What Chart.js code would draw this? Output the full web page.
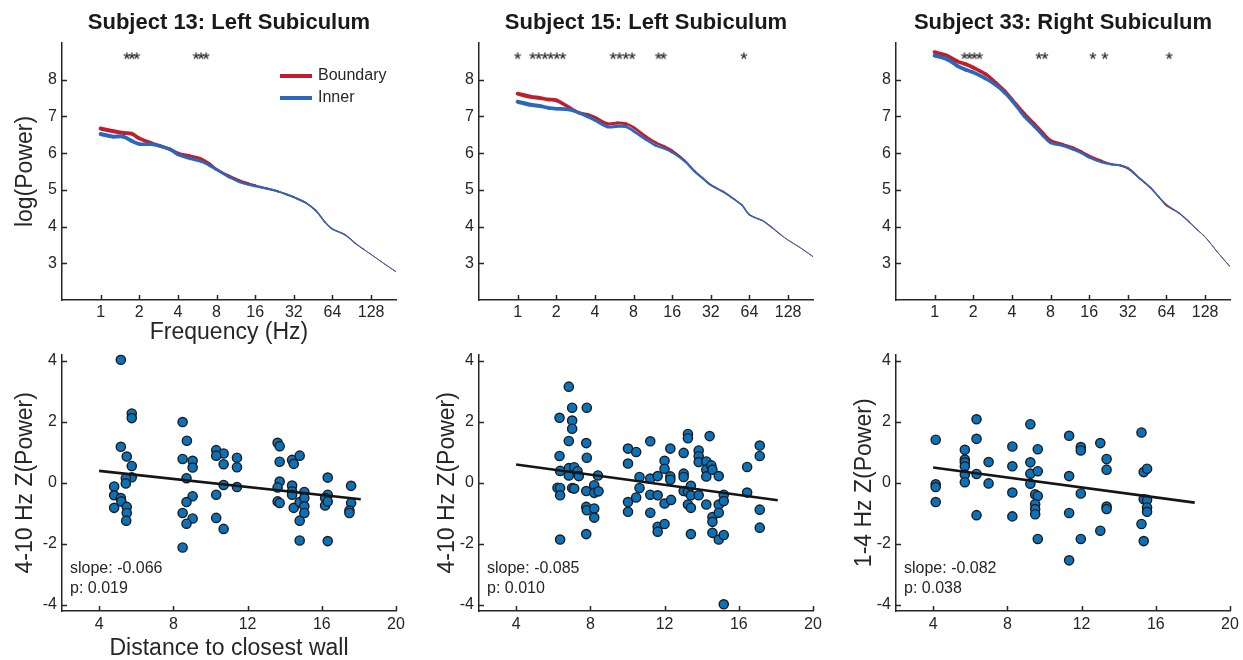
<!DOCTYPE html>
<html>
<head>
<meta charset="utf-8">
<script src="https://cdn.jsdelivr.net/npm/chart.js@4.4.1/dist/chart.umd.min.js"></script>
<style>
html, body { margin:0; padding:0; background:#fff; overflow:hidden; }
#wrap { position:relative; width:1243px; height:660px; }
canvas { position:absolute; }
</style>
</head>
<body>
<div id="wrap">
<canvas id="top13" width="409" height="350" style="left:0px;top:0px"></canvas>
<canvas id="top15" width="409" height="350" style="left:417px;top:0px"></canvas>
<canvas id="top33" width="409" height="350" style="left:834px;top:0px"></canvas>
<canvas id="bot13" width="409" height="322" style="left:0px;top:340px"></canvas>
<canvas id="bot15" width="409" height="322" style="left:417px;top:340px"></canvas>
<canvas id="bot33" width="409" height="322" style="left:834px;top:340px"></canvas>
</div>
<script>
// ---- data ----
var freq = [1,1.25,1.5,1.75,2,2.5,3,3.5,4,5,6,7,8,10,12,14,16,20,24,28,32,40,48,56,64,80,96,112,128,160,200];
var xTicksTop = [1,2,4,8,16,32,64,128];
var yTicksTop = [3,4,5,6,7,8];
var xTicksBot = [4,8,12,16,20];
var yTicksBot = [-4,-2,0,2,4];

var boundary13 = [6.67,6.60,6.55,6.53,6.40,6.27,6.18,6.10,6.00,5.92,5.85,5.72,5.56,5.38,5.26,5.18,5.12,5.03,4.96,4.88,4.80,4.64,4.42,4.12,3.93,3.78,3.55,3.38,3.24,3.00,2.77];
var inner13    = [6.52,6.45,6.45,6.33,6.25,6.24,6.18,6.10,5.96,5.85,5.78,5.67,5.55,5.35,5.22,5.15,5.10,5.03,4.96,4.88,4.80,4.64,4.42,4.12,3.93,3.78,3.55,3.38,3.24,3.00,2.77];
var boundary15 = [7.62,7.54,7.50,7.46,7.44,7.25,7.10,7.05,6.97,6.80,6.82,6.80,6.70,6.45,6.28,6.18,6.07,5.80,5.50,5.30,5.13,4.95,4.76,4.58,4.32,4.17,3.97,3.78,3.63,3.42,3.18];
var inner15    = [7.40,7.32,7.28,7.23,7.21,7.19,7.10,7.00,6.90,6.72,6.73,6.72,6.60,6.37,6.20,6.12,6.02,5.78,5.50,5.30,5.13,4.95,4.76,4.58,4.32,4.17,3.97,3.78,3.63,3.42,3.18];
var boundary33 = [8.75,8.65,8.50,8.42,8.33,8.15,7.92,7.70,7.47,7.08,6.80,6.55,6.35,6.24,6.15,6.04,5.93,5.79,5.70,5.66,5.58,5.30,5.06,4.80,4.57,4.37,4.13,3.90,3.72,3.30,2.91];
var inner33    = [8.66,8.56,8.38,8.27,8.20,8.03,7.85,7.65,7.43,7.00,6.72,6.47,6.28,6.20,6.10,6.00,5.88,5.75,5.69,5.67,5.60,5.30,5.06,4.80,4.60,4.37,4.13,3.90,3.72,3.30,2.91];

var sig13 = [1.6,1.75,1.91,5.55,6.07,6.64];
var sig15 = [1,1.31,1.46,1.63,1.81,2.02,2.25,5.55,6.22,6.97,7.81,12.5,13.7,57.9];
var sig33 = [1.71,1.87,2.04,2.24,6.49,7.23,17.1,21.2,67.3];
var sigLevel = 8.66;

var dist13 = [5.17,5.76,5.76,5.17,5.49,5.76,5.76,5.44,5.44,4.81,4.81,5.17,5.2,4.81,5.49,5.49,5.46,
  8.5,8.73,8.5,9.04,9.04,8.71,9.04,8.71,8.5,9.04,8.71,8.5,
  10.31,10.71,10.31,10.71,11.43,11.43,10.71,11.43,10.31,10.31,10.71,
  13.62,13.73,13.73,13.73,13.62,13.62,13.73,14.4,14.49,14.81,14.4,14.4,14.4,14.49,14.81,14.81,14.81,15.06,15.06,15.06,15.06,
  16.32,16.32,16.18,16.18,16.32,16.32,
  17.58,17.58,17.49,17.49];
var z13 = [4.03,2.27,2.12,1.18,0.86,0.55,0.18,0.15,-0.02,-0.12,-0.41,-0.5,-0.61,-0.82,-0.79,-0.99,-1.24,
  1.99,1.38,0.78,0.72,0.5,0.15,-0.44,-0.63,-0.99,-1.17,-1.34,-2.12,
  1.07,0.96,0.89,0.61,0.82,0.51,-0.07,-0.14,-0.39,-1.15,-1.51,
  1.31,1.2,0.69,0.04,-0.15,-0.61,-0.66,0.75,0.62,0.89,-0.09,-0.28,-0.39,-0.82,-0.63,-1.24,-1.89,-0.3,-0.5,-0.77,-0.99,
  0.17,-0.39,-0.5,-0.74,-0.61,-1.91,
  -0.1,-0.66,-0.91,-0.99];

var dist15 = [6.34,6.34,6.37,6.23,6.37,6.37,6.37,
  6.84,7.02,7.02,7.02,6.84,6.84,6.84,7.13,7.31,7.38,7.02,7.13,
  7.81,7.78,7.81,7.78,7.78,7.81,7.78,
  8.41,8.21,8.21,8.44,8.21,8.21,
  10.03,10.47,10.03,10.03,10.03,10.47,10.65,10.65,
  11.23,11.23,11.23,11.23,11.63,11.63,11.63,11.63,
  12.0,12.0,12.0,12.0,12.31,12.31,12.31,12.35,
  13.03,13.03,13.03,13.03,13.26,13.26,13.26,13.26,13.42,13.42,13.42,13.42,
  13.84,13.84,13.84,13.84,14.25,14.25,14.25,14.25,
  14.43,14.52,14.58,14.58,14.58,14.58,14.92,14.92,14.92,14.92,
  15.19,15.19,15.19,15.19,
  16.45,16.45,
  17.13,17.13,17.13,17.13];
var z15 = [2.13,0.88,0.39,-0.16,-0.17,-0.41,-1.86,
  3.15,2.46,2.04,1.77,1.37,0.48,0.24,0.51,0.38,0.22,-0.17,-0.19,
  2.46,1.3,0.82,-0.27,-0.79,-0.9,-1.68,
  0.24,-0.08,-0.33,-0.28,-0.84,-1.14,
  1.12,1.01,0.63,-0.63,-0.95,-0.48,0.19,-0.17,
  1.36,0.14,-0.39,-0.98,0.22,-0.41,-1.44,-1.6,
  0.72,0.46,-0.68,-1.35,1.12,0.21,0.1,-0.56,
  0.98,0.3,0.19,-0.27,1.6,1.46,-0.3,-0.71,-0.1,-0.41,-0.82,-1.68,
  1.06,0.87,0.68,-0.41,0.7,0.43,0.21,-0.71,
  1.53,0.57,0.43,-1.12,-1.28,-1.64,0.22,-0.71,-0.98,-1.86,
  -0.39,-0.6,-1.71,-3.98,
  0.52,-0.32,
  1.22,0.88,-0.88,-1.47];

var dist33 = [4.14,4.14,4.14,4.14,
  5.71,5.71,5.71,5.71,5.71,5.71,
  6.34,6.34,6.34,6.34,
  6.99,6.99,
  8.27,8.27,8.27,8.27,
  9.24,9.24,9.24,9.24,9.64,9.64,9.5,9.64,9.5,9.5,9.5,9.64,
  11.33,11.33,11.33,11.33,
  11.96,11.96,11.96,11.96,
  13.01,13.01,13.35,13.35,13.35,13.35,
  15.23,15.35,15.53,15.35,15.53,15.53,15.53,15.23,15.35];
var z33 = [1.41,-0.05,-0.14,-0.63,
  1.08,0.76,0.67,0.54,0.27,0.02,
  2.08,1.44,0.29,-1.06,
  0.68,-0.02,
  1.19,0.54,-0.32,-1.1,
  1.92,0.67,0.3,-0.03,1.1,0.38,-0.38,-0.43,-0.7,-0.86,-1.03,-1.84,
  1.54,0.22,-0.99,-2.54,
  1.17,1.06,-0.35,-1.84,
  1.3,-1.57,0.78,0.43,-0.78,-0.86,
  1.65,0.35,0.46,-0.54,-0.56,-0.81,-0.95,-1.35,-1.91];

// regression line end points
var fitX = [4, 18.1];
var fit13 = [0.39, -0.54];
var fit15 = [0.60, -0.57];
var fit33 = [0.50, -0.65];

// ---- styling ----
var FONT = "'Liberation Sans', Arial, Helvetica, sans-serif";
var INK = '#262626';
var RED = '#BE1E2D';
var BLUE = '#2A68BE';
var DOT = '#0B72BA';

Chart.defaults.animation = false;
Chart.defaults.font.family = FONT;
Chart.defaults.color = INK;

function pairs(xs, ys) {
  return xs.map(function(x, i) { return { x: x, y: ys[i] }; });
}

// thicker band at low frequencies, thin at high ones
function bandWidth(ctx) {
  var f = ctx.chart.data.datasets[ctx.datasetIndex].data[ctx.p0DataIndex].x;
  return Math.max(1, Math.min(4, 4 - 0.45 * Math.log2(f)));
}

// asterisk marker drawn as a glyph
function makeStar() {
  var c = document.createElement('canvas');
  c.width = 14; c.height = 14;
  var g = c.getContext('2d');
  g.font = '19px ' + FONT;
  g.fillStyle = '#111';
  g.textAlign = 'center';
  g.textBaseline = 'alphabetic';
  var m = g.measureText('*');
  var base = 7 + (m.actualBoundingBoxAscent - m.actualBoundingBoxDescent) / 2;
  g.fillText('*', 7, base);
  return c;
}
var starImg = makeStar();

var panelDeco = {
  id: 'panelDeco',
  afterDraw: function(chart, args, o) {
    var ctx = chart.ctx, a = chart.chartArea;
    var sx = chart.scales.x, sy = chart.scales.y;
    ctx.save();
    // inward tick marks
    ctx.strokeStyle = INK;
    ctx.lineWidth = 1.5;
    ctx.beginPath();
    sx.ticks.forEach(function(t) {
      var px = Math.round(sx.getPixelForValue(t.value)) + 0.5;
      ctx.moveTo(px, a.bottom); ctx.lineTo(px, a.bottom - 5);
    });
    sy.ticks.forEach(function(t) {
      var py = Math.round(sy.getPixelForValue(t.value)) + 0.5;
      ctx.moveTo(a.left, py); ctx.lineTo(a.left + 5, py);
    });
    ctx.stroke();
    ctx.fillStyle = '#1a1a1a';
    if (o.title) {
      ctx.font = 'bold 22px ' + FONT;
      ctx.textAlign = 'center';
      ctx.textBaseline = 'alphabetic';
      ctx.fillText(o.title, (a.left + a.right) / 2, 29);
    }
    if (o.stats) {
      ctx.font = '16px ' + FONT;
      ctx.fillStyle = INK;
      ctx.textAlign = 'left';
      ctx.textBaseline = 'alphabetic';
      o.stats.forEach(function(s, i) {
        ctx.fillText(s, a.left + 8, a.bottom - 38 + 20 * i);
      });
    }
    if (o.legend) {
      ctx.font = '16px ' + FONT;
      ctx.textAlign = 'left';
      ctx.textBaseline = 'middle';
      o.legend.forEach(function(lbl, i) {
        var ds = chart.data.datasets.filter(function(d) { return d.label === lbl; })[0];
        var y = a.top + 33 + 22 * i;
        ctx.strokeStyle = ds.borderColor;
        ctx.lineWidth = 4;
        ctx.beginPath();
        ctx.moveTo(a.left + 218, y); ctx.lineTo(a.left + 250, y);
        ctx.stroke();
        ctx.fillStyle = INK;
        ctx.fillText(lbl, a.left + 256, y);
      });
    }
    ctx.restore();
  }
};

function axisBase(ticksArr, fit) {
  return {
    afterBuildTicks: function(s) { s.ticks = ticksArr.map(function(v) { return { value: v }; }); },
    afterFit: fit,
    grid: { display: false, drawTicks: false },
    border: { display: true, color: INK, width: 1.5 },
    ticks: { autoSkip: false, maxRotation: 0, color: INK, font: { size: 16 },
             callback: function(v) { return String(v); } }
  };
}

function topChart(id, boundary, inner, sig, title, yTitle, xTitle, legend) {
  var lineStyle = { pointRadius: 0, fill: false, tension: 0.35, borderCapStyle: 'round', borderJoinStyle: 'round',
                    segment: { borderWidth: bandWidth } };
  var x = axisBase(xTicksTop, function(s) { s.height = 50; });
  x.type = 'logarithmic'; x.min = 0.5; x.max = 200;
  x.ticks.padding = 3;
  x.title = { display: !!xTitle, text: xTitle || '', color: INK, font: { size: 23 }, padding: { top: 0, bottom: 4 } };
  var y = axisBase(yTicksTop, function(s) { s.width = 62; });
  y.min = 2; y.max = 9;
  y.ticks.padding = 5;
  y.title = { display: !!yTitle, text: yTitle || '', color: INK, font: { size: 23 }, padding: { top: 12, bottom: 0 } };
  return new Chart(document.getElementById(id), {
    type: 'line',
    data: { datasets: [
      Object.assign({ label: 'Inner', data: pairs(freq, inner), borderColor: BLUE, order: 1 }, lineStyle),
      Object.assign({ label: 'Boundary', data: pairs(freq, boundary), borderColor: RED, order: 2 }, lineStyle),
      { label: 'sig', data: sig.map(function(f) { return { x: f, y: sigLevel }; }), showLine: false,
        pointStyle: starImg, pointRadius: 4, order: 0 }
    ]},
    options: {
      responsive: false,
      layout: { padding: { top: 43, right: 13, left: 0, bottom: 0 } },
      scales: { x: x, y: y },
      plugins: { legend: { display: false }, tooltip: { enabled: false },
                 panelDeco: { title: title, legend: legend } }
    },
    plugins: [panelDeco]
  });
}

function botChart(id, dist, z, fitY, stats, yTitle, yPad, xTitle) {
  var x = axisBase(xTicksBot, function(s) { s.height = 51; });
  x.type = 'linear'; x.min = 2; x.max = 20;
  x.ticks.padding = 4;
  x.title = { display: !!xTitle, text: xTitle || '', color: INK, font: { size: 23 }, padding: { top: 0, bottom: 0 } };
  var y = axisBase(yTicksBot, function(s) { s.width = 62; });
  y.min = -4.2; y.max = 4.2;
  y.ticks.padding = 5;
  y.title = { display: true, text: yTitle, color: INK, font: { size: 23 }, padding: { top: yPad, bottom: 0 } };
  return new Chart(document.getElementById(id), {
    type: 'scatter',
    data: { datasets: [
      { type: 'line', label: 'fit', data: pairs(fitX, fitY), borderColor: '#151515', borderWidth: 2.6,
        pointRadius: 0, fill: false, order: 0 },
      { label: 'cells', data: pairs(dist, z), backgroundColor: DOT, borderColor: '#1c1c1c',
        borderWidth: 1.4, pointRadius: 4.6, order: 1 }
    ]},
    options: {
      responsive: false,
      layout: { padding: { top: 13, right: 13, left: 0, bottom: 0 } },
      scales: { x: x, y: y },
      plugins: { legend: { display: false }, tooltip: { enabled: false },
                 panelDeco: { stats: stats } }
    },
    plugins: [panelDeco]
  });
}

topChart('top13', boundary13, inner13, sig13, 'Subject 13: Left Subiculum', 'log(Power)', 'Frequency (Hz)', ['Boundary', 'Inner']);
topChart('top15', boundary15, inner15, sig15, 'Subject 15: Left Subiculum', null, null, null);
topChart('top33', boundary33, inner33, sig33, 'Subject 33: Right Subiculum', null, null, null);

botChart('bot13', dist13, z13, fit13, ['slope: -0.066', 'p: 0.019'], '4-10 Hz Z(Power)', 12, 'Distance to closest wall');
botChart('bot15', dist15, z15, fit15, ['slope: -0.085', 'p: 0.010'], '4-10 Hz Z(Power)', 17, null);
botChart('bot33', dist33, z33, fit33, ['slope: -0.082', 'p: 0.038'], '1-4 Hz Z(Power)', 17, null);
</script>
</body>
</html>
